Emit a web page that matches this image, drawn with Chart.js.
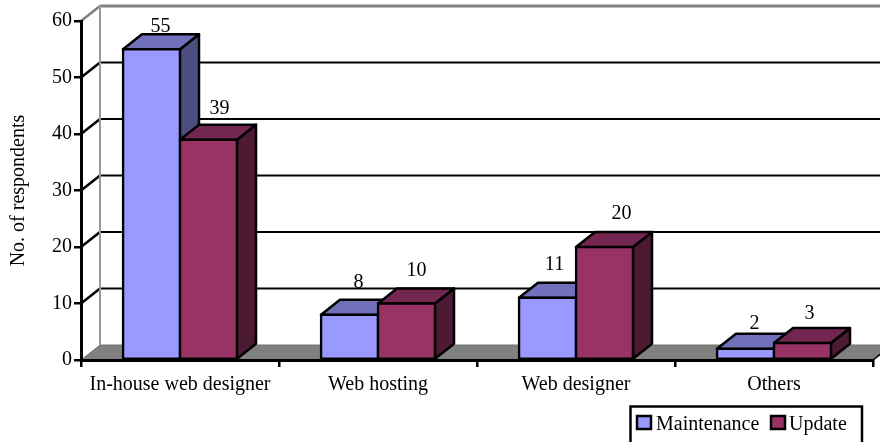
<!DOCTYPE html>
<html>
<head>
<meta charset="utf-8">
<script src="https://cdn.jsdelivr.net/npm/chart.js@4"></script>
<style>
  html, body { margin: 0; padding: 0; background: #fff; overflow: hidden; }
  canvas { display: block; }
</style>
</head>
<body>
<canvas id="myChart" width="880" height="442"></canvas>
<script>
var categories = ['In-house web designer', 'Web hosting', 'Web designer', 'Others'];
var maintenance = [55, 8, 11, 2];
var update = [39, 10, 20, 3];
var yTicks = [0, 10, 20, 30, 40, 50, 60];

// nudges for the value labels, the original has them placed by hand
var maintenanceNudge = [[9, -8], [9, -17], [7, -18], [9, -10]];
var updateNudge = [[11, -16], [10, -18], [17, -18], [7, -14]];

var font = '"Liberation Serif", serif';
var depthX = 19, depthY = 15;

var shades = [
  { front: '#9999ff', top: '#7070bb', side: '#4d4d80' },
  { front: '#993366', top: '#732650', side: '#4d1a33' }
];
var nudges = [maintenanceNudge, updateNudge];

function poly(ctx, pts, fill, stroke, width) {
  ctx.beginPath();
  ctx.moveTo(pts[0][0], pts[0][1]);
  for (var i = 1; i < pts.length; i++) ctx.lineTo(pts[i][0], pts[i][1]);
  ctx.closePath();
  if (fill) { ctx.fillStyle = fill; ctx.fill(); }
  if (stroke) { ctx.strokeStyle = stroke; ctx.lineWidth = width; ctx.stroke(); }
}

function line(ctx, x1, y1, x2, y2, color, width) {
  ctx.beginPath();
  ctx.moveTo(x1, y1);
  ctx.lineTo(x2, y2);
  ctx.strokeStyle = color;
  ctx.lineWidth = width;
  ctx.stroke();
}

var depthPlugin = {
  id: 'depth',
  // back wall and floor, under the axes
  beforeDraw: function (chart) {
    var ctx = chart.ctx, a = chart.chartArea, y = chart.scales.y;
    ctx.save();
    var base = y.getPixelForValue(0);
    poly(ctx, [[a.left, base], [a.left + depthX, base - depthY], [a.right + depthX, base - depthY], [a.right, base]], '#808080', '#707070', 1);
    yTicks.forEach(function (t) {
      if (t === 0) return;
      var py = y.getPixelForValue(t);
      var c = t === 60 ? '#808080' : '#000';
      line(ctx, a.left, py, a.left + depthX, py - depthY, c, 2.5);
      line(ctx, a.left + depthX, py - depthY, a.right + depthX, py - depthY, c, t === 60 ? 3 : 2);
    });
    line(ctx, a.left + depthX, y.getPixelForValue(60) - depthY, a.left + depthX, base - depthY, '#999', 2);
    line(ctx, a.right, base, a.right + depthX, base - depthY, '#000', 1.5);
    ctx.restore();
  },
  // left series first so the right one overlaps it, top and side before each front
  beforeDatasetsDraw: function (chart) {
    var ctx = chart.ctx;
    ctx.save();
    ctx.lineJoin = 'round';
    chart.data.datasets.forEach(function (ds, i) {
      var s = shades[i], meta = chart.getDatasetMeta(i);
      meta.data.forEach(function (bar) {
        var l = bar.x - bar.width / 2, r = bar.x + bar.width / 2, t = bar.y, b = bar.base;
        poly(ctx, [[r, t], [r + depthX, t - depthY], [r + depthX, b - depthY], [r, b]], s.side, '#000', 2.5);
        poly(ctx, [[l, t], [l + depthX, t - depthY], [r + depthX, t - depthY], [r, t]], s.top, '#000', 2.5);
      });
      meta.controller.draw();
    });
    ctx.restore();
    return false;
  },
  afterDraw: function (chart) {
    var ctx = chart.ctx;
    ctx.save();
    ctx.font = '20px ' + font;
    ctx.fillStyle = '#000';
    ctx.textAlign = 'center';
    ctx.textBaseline = 'middle';
    chart.data.datasets.forEach(function (ds, i) {
      chart.getDatasetMeta(i).data.forEach(function (bar, j) {
        var n = nudges[i][j];
        ctx.fillText(ds.data[j], bar.x + n[0], bar.y - depthY + n[1]);
      });
    });

    // legend box, runs off the bottom of the picture like the original
    ctx.strokeStyle = '#000';
    ctx.lineWidth = 2.5;
    ctx.strokeRect(630.5, 406.5, 231.5, 50);
    ctx.textAlign = 'left';
    var swatchX = [637, 771], textX = [656, 789];
    chart.data.datasets.forEach(function (ds, i) {
      ctx.fillStyle = shades[i].front;
      ctx.lineWidth = 2.5;
      ctx.fillRect(swatchX[i], 416, 14, 13);
      ctx.strokeRect(swatchX[i], 416, 14, 13);
      ctx.fillStyle = '#000';
      ctx.fillText(ds.label, textX[i], 425);
    });
    ctx.restore();
  }
};

var ctx = document.getElementById('myChart').getContext('2d');
var myChart = new Chart(ctx, {
  type: 'bar',
  plugins: [depthPlugin],
  data: {
    labels: categories,
    datasets: [{
      label: 'Maintenance',
      data: maintenance,
      backgroundColor: shades[0].front
    }, {
      label: 'Update',
      data: update,
      backgroundColor: shades[1].front
    }]
  },
  options: {
    responsive: false,
    animation: false,
    layout: { padding: { top: 21, right: 7, left: 0, bottom: 0 } },
    datasets: {
      bar: {
        categoryPercentage: 0.5758,
        barPercentage: 1,
        borderColor: '#000',
        borderWidth: 2.5,
        borderSkipped: false,
        inflateAmount: 1.25
      }
    },
    plugins: {
      legend: { display: false },
      tooltip: { enabled: false }
    },
    scales: {
      x: {
        afterFit: function (scale) { scale.height = 82; },
        grid: { offset: true, drawOnChartArea: false, color: '#000', lineWidth: 2.5, tickLength: 7 },
        border: { color: '#000', width: 3 },
        ticks: { color: '#000', padding: 6, autoSkip: false, maxRotation: 0, font: { family: font, size: 20 } }
      },
      y: {
        min: 0,
        max: 60,
        afterFit: function (scale) { scale.width = 81; },
        afterBuildTicks: function (scale) { scale.ticks = yTicks.map(function (v) { return { value: v }; }); },
        grid: { drawOnChartArea: false, color: '#000', lineWidth: 2.5, tickLength: 7 },
        border: { color: '#000', width: 3 },
        ticks: { color: '#000', padding: 2, font: { family: font, size: 20 } },
        title: { display: true, text: 'No. of respondents', color: '#000', padding: { top: 7, bottom: 0 }, font: { family: font, size: 20 } }
      }
    }
  }
});
</script>
</body>
</html>
